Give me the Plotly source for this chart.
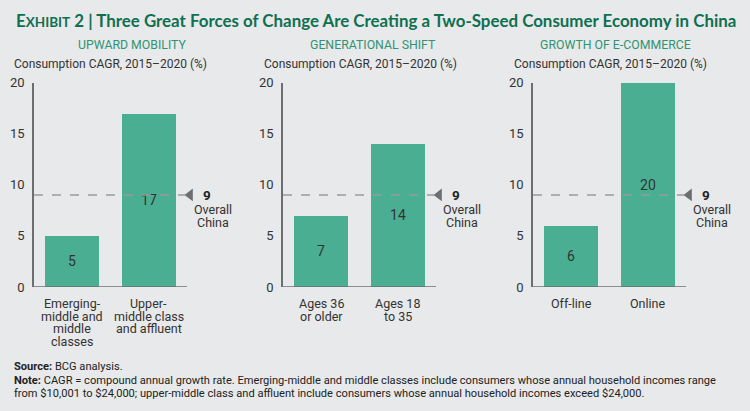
import plotly.graph_objects as go
from plotly.subplots import make_subplots

# data
panel_titles = ["UPWARD MOBILITY", "GENERATIONAL SHIFT", "GROWTH OF E-COMMERCE"]
categories = [
    ["Emerging-\nmiddle and\nmiddle\nclasses", "Upper-\nmiddle class\nand affluent"],
    ["Ages 36\nor older", "Ages 18\nto 35"],
    ["Off-line", "Online"],
]
values = [[5, 17], [7, 14], [6, 20]]
overall_china = 9
y_ticks = [0, 5, 10, 15, 20]

BG = "#e8e9ea"
BAR = "#4aaf92"
GREEN = "#0f7050"
SUB_GREEN = "#2f9473"
AXIS = "#6d6e71"
TXT = "#333333"
FONT = "Roboto, Open Sans, sans-serif"

W, H = 750, 411
STEP = 76.5          # px between the two bars of a panel
X_RANGE = [-0.5, 2.2]


def px(x):
    return x / W


def py(y):
    # the captured page comes out slightly squeezed vertically, undo that
    y = (y - 6.3) / 0.966
    return 1 - y / H


fig = make_subplots(rows=1, cols=3)

axis_left = [34, 283, 533]
sub_centers = [132, 373, 615]
label_lefts = [12, 262, 512]

annotations = []
shapes = []

for i in range(3):
    n = i + 1
    xs = [0, 1]
    x0 = axis_left[i]
    xa = "x" if n == 1 else "x%d" % n
    ya = "y" if n == 1 else "y%d" % n

    fig.add_trace(go.Bar(
        x=xs,
        y=values[i],
        width=0.706,
        marker=dict(color=BAR, line=dict(width=0)),
        text=[str(v) for v in values[i]],
        textposition="inside",
        insidetextanchor="middle",
        textfont=dict(family=FONT, size=14, color=TXT),
        showlegend=False,
        hoverinfo="skip",
    ), row=1, col=n)

    # triangle pointer for overall China
    fig.add_trace(go.Scatter(
        x=[1.54], y=[overall_china],
        mode="markers",
        marker=dict(symbol="triangle-left", size=11, color=AXIS),
        cliponaxis=False,
        showlegend=False,
        hoverinfo="skip",
    ), row=1, col=n)

    # baseline (x axis line) only under the bars
    shapes.append(dict(type="line", xref=xa, yref=ya, x0=-0.5, x1=1.5, y0=0, y1=0,
                       line=dict(color=AXIS, width=1.5)))
    shapes.append(dict(type="line", xref=xa, yref=ya, x0=-0.5, x1=1.477,
                       y0=overall_china, y1=overall_china,
                       line=dict(color="#9a9b9d", width=1.5, dash="dash")))

    cx9 = x0 + 38 + STEP * 1.77
    cxo = x0 + 38 + STEP * 1.84
    annotations.append(dict(xref="paper", yref="paper", x=px(cx9), y=py(194.5),
                            text="<b>%d</b>" % overall_china, showarrow=False,
                            xanchor="center", yanchor="middle",
                            font=dict(family=FONT, size=13.5, color="#222222")))
    annotations.append(dict(xref="paper", yref="paper", x=px(cxo), y=py(209.5),
                            text="Overall", showarrow=False,
                            xanchor="center", yanchor="middle",
                            font=dict(family=FONT, size=12.5, color=TXT)))
    annotations.append(dict(xref="paper", yref="paper", x=px(cxo), y=py(222.5),
                            text="China", showarrow=False,
                            xanchor="center", yanchor="middle",
                            font=dict(family=FONT, size=12.5, color=TXT)))

    # category labels, one annotation per line
    for j, cat in enumerate(categories[i]):
        cx = x0 + 38 + STEP * xs[j]
        for k, line in enumerate(cat.split("\n")):
            annotations.append(dict(xref="paper", yref="paper", x=px(cx),
                                    y=py(304 + 12.5 * k), text=line, showarrow=False,
                                    xanchor="center", yanchor="middle",
                                    font=dict(family=FONT, size=12.5, color=TXT)))

    annotations.append(dict(xref="paper", yref="paper", x=px(sub_centers[i]),
                            y=py(44), text=panel_titles[i], showarrow=False,
                            xanchor="center", yanchor="middle",
                            font=dict(family=FONT, size=12.3, color=SUB_GREEN)))
    annotations.append(dict(xref="paper", yref="paper", x=px(label_lefts[i]),
                            y=py(63), text="Consumption CAGR, 2015–2020 (%)",
                            showarrow=False, xanchor="left", yanchor="middle",
                            font=dict(family=FONT, size=12, color=TXT)))

    width_px = (X_RANGE[1] - X_RANGE[0]) * STEP
    fig.update_xaxes(domain=[px(x0), px(x0 + width_px)], range=X_RANGE,
                     showticklabels=False, showline=False, showgrid=False,
                     zeroline=False, ticks="", row=1, col=n)
    fig.update_yaxes(domain=[py(287), py(82)], range=[0, 20],
                     tickvals=y_ticks, showline=True, linecolor=AXIS, linewidth=1.5,
                     showgrid=False, zeroline=False, ticks="",
                     tickfont=dict(family=FONT, size=13, color=TXT),
                     ticklabelstandoff=5, row=1, col=n)

# title
annotations.append(dict(
    xref="paper", yref="paper", x=px(14), y=py(20),
    xanchor="left", yanchor="middle", showarrow=False,
    text="<b>E<span style='font-size:13.5px'>XHIBIT</span> 2 | Three Great Forces of Change "
         "Are Creating a Two-Speed Consumer Economy in China</b>",
    font=dict(family="Lato, Open Sans, sans-serif", size=16.9, color=GREEN),
))

# source and note
foot = [
    "<b>Source:</b> BCG analysis.",
    "<b>Note:</b> CAGR = compound annual growth rate. Emerging-middle and middle classes include "
    "consumers whose annual household incomes range",
    "from $10,001 to $24,000; upper-middle class and affluent include consumers whose annual "
    "household incomes exceed $24,000.",
]
foot_y = [367, 381, 394]
for t, yy in zip(foot, foot_y):
    annotations.append(dict(xref="paper", yref="paper", x=px(12), y=py(yy),
                            xanchor="left", yanchor="middle", showarrow=False, text=t,
                            font=dict(family=FONT, size=11.1, color="#222222")))

fig.update_layout(
    width=W, height=H,
    margin=dict(l=0, r=0, t=0, b=0),
    paper_bgcolor=BG, plot_bgcolor=BG,
    bargap=0,
    shapes=shapes,
    annotations=annotations,
    font=dict(family=FONT, color=TXT),
)

fig.write_html("out.html", config={"displayModeBar": False},
               post_script="document.body.style.margin='0';"
                           "document.body.style.background='%s';" % BG)
